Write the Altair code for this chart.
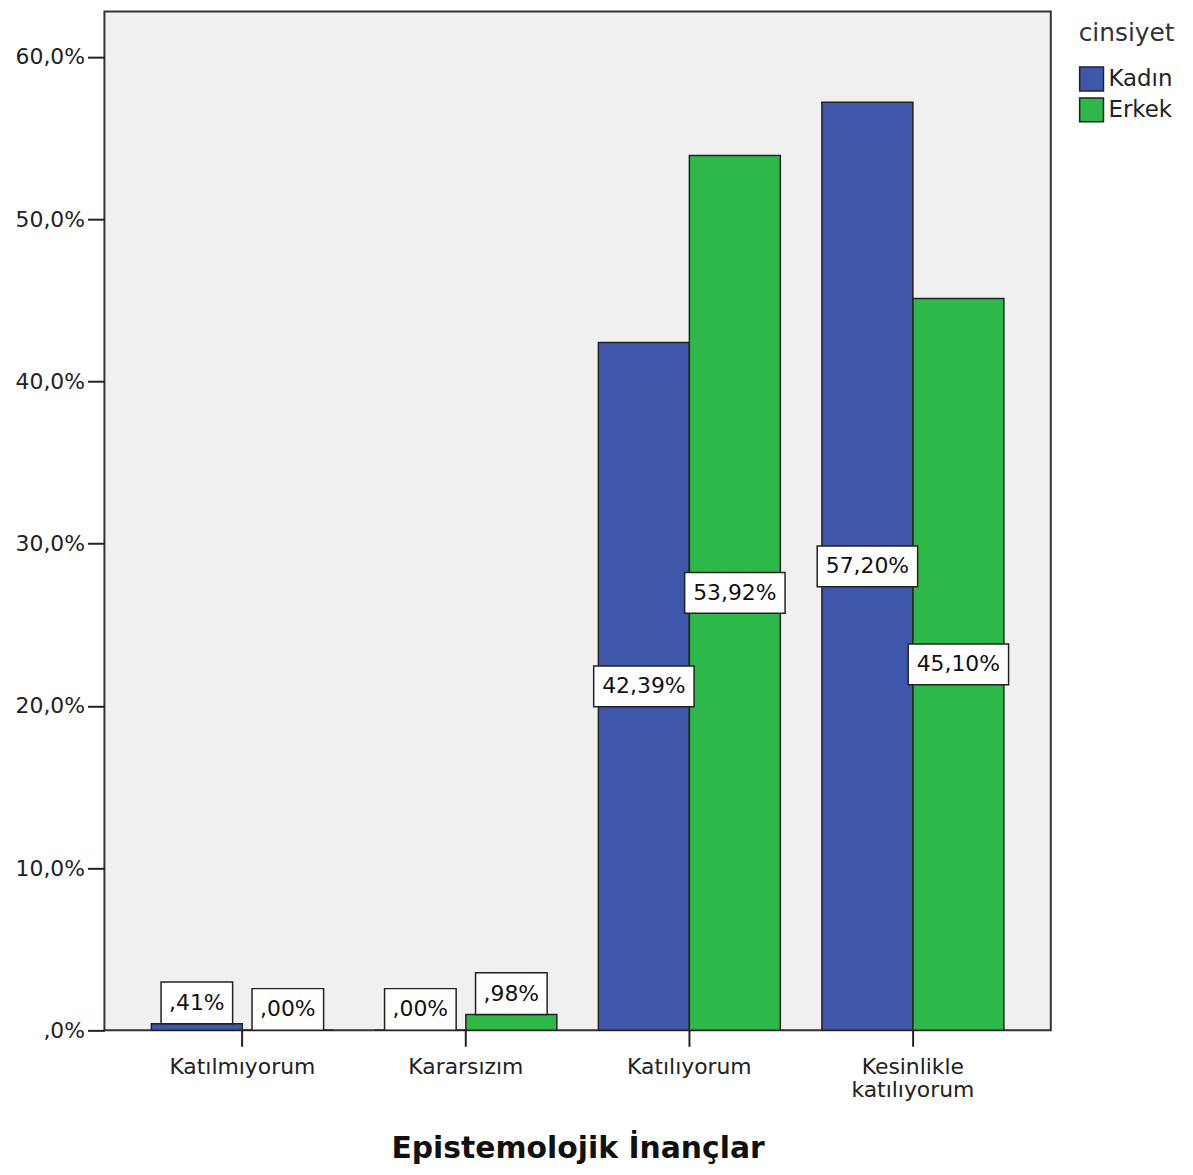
import altair as alt
import pandas as pd

categories = ["Katılmıyorum", "Kararsızım", "Katılıyorum", "Kesinlikle katılıyorum"]
groups = ["Kadın", "Erkek"]
kadin = [0.41, 0.00, 42.39, 57.20]
erkek = [0.00, 0.98, 53.92, 45.10]
colors = ["#3E57AB", "#2FB84A"]
y_ticks = [0, 10, 20, 30, 40, 50, 60]


def fmt(v):
    s = f"{v:.2f}".replace(".", ",")
    if s.startswith("0,"):
        s = s[1:]
    return s + "%"


rows = []
for g, vals in zip(groups, [kadin, erkek]):
    for c, v in zip(categories, vals):
        rows.append({"cat": c, "grp": g, "val": v, "lab": fmt(v)})
df = pd.DataFrame(rows)

FONT = "DejaVu Sans"
yscale = alt.Scale(domain=[0, 62.8], nice=False, zero=True)
xscale = alt.Scale(paddingInner=0.186, paddingOuter=0.21)

x_enc = alt.X(
    "cat:N",
    sort=categories,
    scale=xscale,
    axis=alt.Axis(
        labelExpr="split(datum.label, ' ')",
        labelAngle=0,
        tickSize=16,
        tickWidth=2,
        tickColor="#222",
        domain=False,
        labelFont=FONT,
        labelFontSize=22,
        labelColor="#222",
        labelLineHeight=24,
        labelPadding=10,
        title="Epistemolojik İnançlar",
        titleFont=FONT,
        titleFontSize=30,
        titleFontWeight="bold",
        titleColor="#111",
        titlePadding=33,
    ),
)
xoff = alt.XOffset("grp:N", sort=groups)

y_axis = alt.Axis(
    values=y_ticks,
    labelExpr="datum.value == 0 ? ',0%' : replace(format(datum.value, '.1f'), '.', ',') + '%'",
    tickSize=17,
    tickWidth=2,
    tickColor="#222",
    labelPadding=3,
    labelFont=FONT,
    labelFontSize=22,
    labelColor="#222",
    minExtent=97,
    maxExtent=97,
    grid=False,
    domain=False,
    title=None,
)

base = alt.Chart(df)

bars = base.mark_bar(stroke="#222", strokeWidth=1.5).encode(
    x=x_enc,
    xOffset=xoff,
    y=alt.Y("val:Q", scale=yscale, axis=y_axis),
    color=alt.Color(
        "grp:N",
        sort=groups,
        scale=alt.Scale(domain=groups, range=colors),
        legend=alt.Legend(
            title="cinsiyet",
            orient="right",
            offset=18,
            padding=10,
            titleFont=FONT,
            titleFontSize=25,
            titleFontWeight="normal",
            titleColor="#333",
            titlePadding=20,
            labelFont=FONT,
            labelFontSize=23,
            labelColor="#222",
            labelOffset=4,
            symbolType="square",
            symbolSize=576,
            symbolStrokeColor="#222",
            symbolStrokeWidth=1.5,
            rowPadding=1,
        ),
    ),
)

big = base.transform_filter("datum.val >= 5").transform_calculate(mid="datum.val / 2")
small = base.transform_filter("datum.val < 5")

big_box = big.mark_point(
    shape="M-1,-0.406L1,-0.406L1,0.406L-1,0.406Z",
    size=101 * 101,
    filled=True,
    fill="white",
    stroke="#222",
    strokeWidth=1.5,
    opacity=1,
).encode(x=x_enc, xOffset=xoff, y=alt.Y("mid:Q", scale=yscale, axis=y_axis))
big_txt = big.mark_text(font=FONT, fontSize=22, color="#111").encode(
    x=x_enc, xOffset=xoff, y=alt.Y("mid:Q", scale=yscale, axis=y_axis), text="lab:N"
)

small_box = small.mark_point(
    shape="M-1,-0.583L1,-0.583L1,0.583L-1,0.583Z",
    size=72 * 72,
    filled=True,
    fill="white",
    stroke="#222",
    strokeWidth=1.5,
    opacity=1,
    yOffset=-21,
).encode(x=x_enc, xOffset=xoff, y=alt.Y("val:Q", scale=yscale, axis=y_axis))
small_txt = small.mark_text(font=FONT, fontSize=22, color="#111", yOffset=-21).encode(
    x=x_enc, xOffset=xoff, y=alt.Y("val:Q", scale=yscale, axis=y_axis), text="lab:N"
)

chart = (
    alt.layer(bars, big_box, big_txt, small_box, small_txt)
    .properties(width=952, height=1025, padding=0)
    .configure_view(fill="#F0F0F0", stroke="#333", strokeWidth=2)
)

chart.save("out.html", embed_options={"renderer": "svg", "actions": False})
